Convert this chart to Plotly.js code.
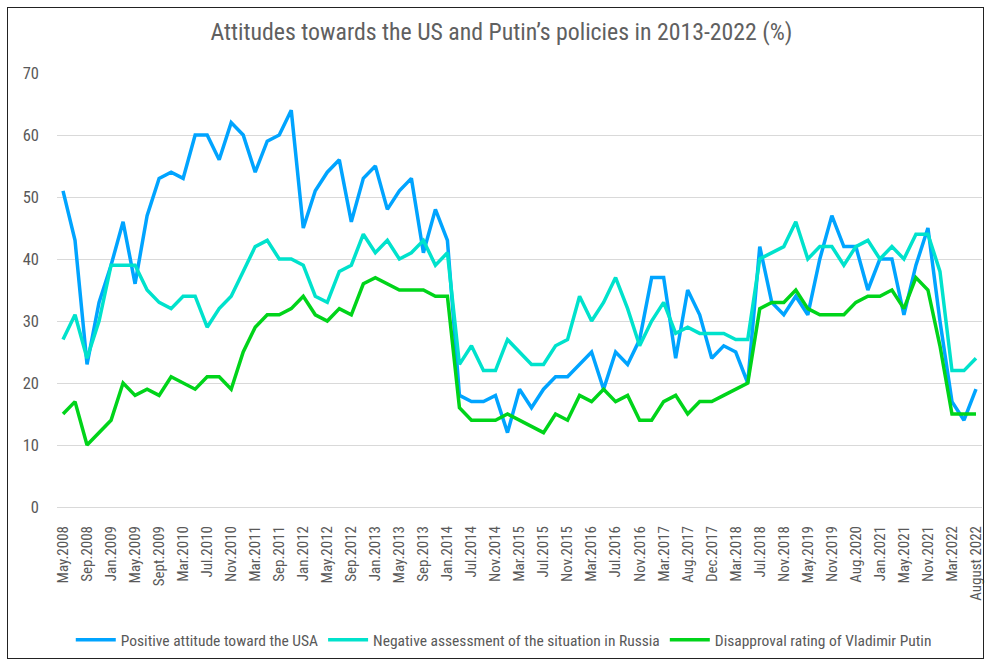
<!DOCTYPE html>
<html>
<head>
<meta charset="utf-8">
<script src="https://cdn.plot.ly/plotly-3.0.1.min.js"></script>
<style>
  html, body { margin: 0; padding: 0; background: #fff; }
  #wrap { position: relative; width: 989px; height: 664px; }
  #chart { position: absolute; left: 0; top: 0; width: 989px; height: 664px; }
  #frame { position: absolute; left: 7px; top: 7px; width: 975px; height: 650px; border: 1.5px solid #222; pointer-events: none; }
</style>
</head>
<body>
<div id="wrap"><div id="chart"></div><div id="frame"></div></div>
<script>
// Survey waves (categories); every other wave carries a visible tick label
const categories = [
  "May.2008","Jul.2008","Sep.2008","Nov.2008","Jan.2009","Mar.2009","May.2009","Jul.2009",
  "Sept.2009","Dec.2009","Mar.2010","May.2010","Jul.2010","Sep.2010","Nov.2010","Jan.2011",
  "Mar.2011","Jun.2011","Sep.2011","Nov.2011","Jan.2012","Mar.2012","May.2012","Jul.2012",
  "Sep.2012","Nov.2012","Jan.2013","Mar.2013","May.2013","Jul.2013","Sep.2013","Nov.2013",
  "Jan.2014","Mar.2014","Jul.2014","Sep.2014","Nov.2014","Jan.2015","Mar.2015","May.2015",
  "Jul.2015","Sep.2015","Nov.2015","Jan.2016","Mar.2016","May.2016","Jul.2016","Sep.2016",
  "Nov.2016","Jan.2017","Mar.2017","May.2017","Aug.2017","Oct.2017","Dec.2017","Jan.2018",
  "Mar.2018","May.2018","Jul.2018","Sep.2018","Nov.2018","Feb.2019","May.2019","Aug.2019",
  "Nov.2019","Feb.2020","Aug.2020","Oct.2020","Jan.2021","Mar.2021","May.2021","Aug.2021",
  "Nov.2021","Jan.2022","Mar.2022","May.2022","August 2022"
];

const tickLabels = [
  "May.2008","Sep.2008","Jan.2009","May.2009","Sept.2009","Mar.2010","Jul.2010","Nov.2010",
  "Mar.2011","Sep.2011","Jan.2012","May.2012","Sep.2012","Jan.2013","May.2013","Sep.2013",
  "Jan.2014","Jul.2014","Nov.2014","Mar.2015","Jul.2015","Nov.2015","Mar.2016","Jul.2016",
  "Nov.2016","Mar.2017","Aug.2017","Dec.2017","Mar.2018","Jul.2018","Nov.2018","May.2019",
  "Nov.2019","Aug.2020","Jan.2021","May.2021","Nov.2021","Mar.2022","August 2022"
];

const positiveUSA = [
  51,43,23,33,39,46,36,47,53,54,53,60,60,56,62,60,54,59,60,64,
  45,51,54,56,46,53,55,48,51,53,41,48,43,18,17,17,18,12,19,16,
  19,21,21,23,25,19,25,23,27,37,37,24,35,31,24,26,25,20,42,33,
  31,34,31,40,47,42,42,35,40,40,31,39,45,30,17,14,19
];

const negativeRussia = [
  27,31,24,30,39,39,39,35,33,32,34,34,29,32,34,38,42,43,40,40,
  39,34,33,38,39,44,41,43,40,41,43,39,41,23,26,22,22,27,25,23,
  23,26,27,34,30,33,37,32,26,30,33,28,29,28,28,28,27,27,40,41,
  42,46,40,42,42,39,42,43,40,42,40,44,44,38,22,22,24
];

const disapprovalPutin = [
  15,17,10,12,14,20,18,19,18,21,20,19,21,21,19,25,29,31,31,32,
  34,31,30,32,31,36,37,36,35,35,35,34,34,16,14,14,14,15,14,13,
  12,15,14,18,17,19,17,18,14,14,17,18,15,17,17,18,19,20,32,33,
  33,35,32,31,31,31,33,34,34,35,32,37,35,26,15,15,15
];

const seriesNames = [
  "Positive attitude toward the USA",
  "Negative assessment of the situation in Russia",
  "Disapproval rating of Vladimir Putin"
];
const seriesColors = ["#00a4ff", "#00e2cc", "#00d41a"];

const FONT = "'Liberation Sans Narrow', 'Arial Narrow', 'Roboto Condensed', sans-serif";
const TXT = "#595959";

const allSeries = [positiveUSA, negativeRussia, disapprovalPutin];
const traces = allSeries.map((vals, k) => ({
  type: "scatter",
  mode: "lines",
  x: categories,
  y: vals,
  name: seriesNames[k],
  line: { color: seriesColors[k], width: 3.5, shape: "linear" },
  hoverinfo: "x+y+name"
}));

const layout = {
  width: 989,
  height: 664,
  paper_bgcolor: "#ffffff",
  plot_bgcolor: "#ffffff",
  margin: { l: 57, r: 7, t: 73, b: 155 },
  title: {
    text: "Attitudes towards the US and Putin’s policies in 2013-2022 (%)",
    font: { family: FONT, size: 23.8, color: "#606060" },
    x: 0.507, xanchor: "center",
    y: 0.953, yanchor: "middle"
  },
  xaxis: {
    type: "category",
    categoryorder: "array",
    categoryarray: categories,
    range: [-0.5, categories.length - 0.5],
    tickmode: "array",
    tickvals: tickLabels,
    ticktext: tickLabels,
    tickangle: -90,
    tickfont: { family: FONT, size: 15, color: TXT },
    showgrid: false,
    showline: false,
    zeroline: false,
    ticks: "outside",
    ticklen: 12,
    tickcolor: "rgba(0,0,0,0)",
    automargin: false,
    fixedrange: true
  },
  yaxis: {
    range: [0, 70],
    tickmode: "linear",
    tick0: 0,
    dtick: 10,
    showgrid: true,
    gridcolor: "#d9d9d9",
    gridwidth: 1.3,
    zeroline: true,
    zerolinecolor: "#d9d9d9",
    zerolinewidth: 1.3,
    showline: false,
    ticks: "",
    ticklabelstandoff: 17,
    tickfont: { family: FONT, size: 16.5, color: TXT },
    automargin: false,
    fixedrange: true
  },
  showlegend: true,
  legend: {
    orientation: "h",
    x: 0.483, xanchor: "center",
    y: -0.307, yanchor: "middle",
    font: { family: FONT, size: 15.5, color: TXT },
    itemwidth: 40,
    bgcolor: "rgba(0,0,0,0)"
  }
};

Plotly.newPlot("chart", traces, layout, { displayModeBar: false });
</script>
</body>
</html>
